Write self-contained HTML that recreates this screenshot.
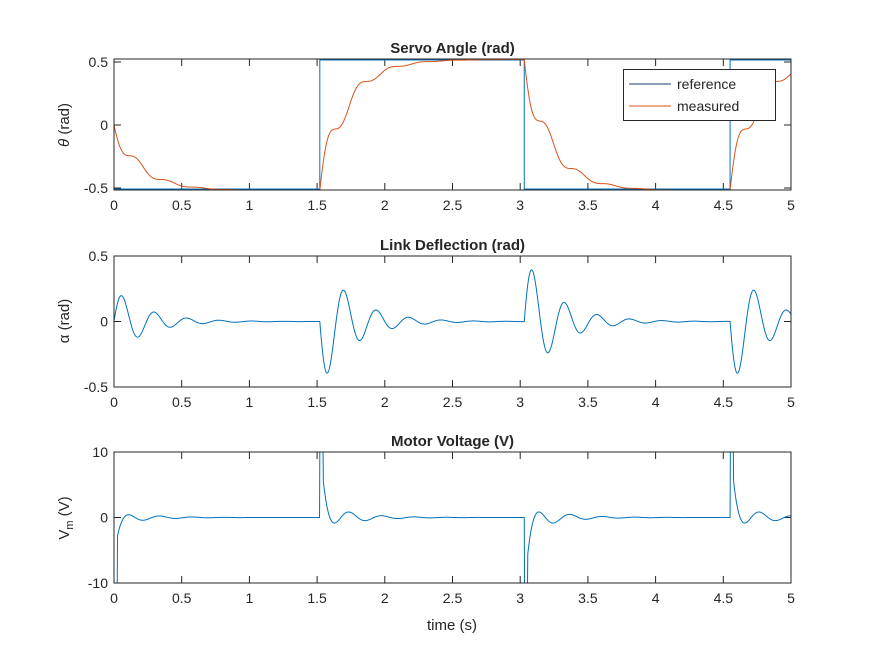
<!DOCTYPE html>
<html><head><meta charset="utf-8"><style>
body{margin:0;background:#fff;}
svg text{font-family:"Liberation Sans",Arial,sans-serif;fill:#262626;}
</style></head><body>
<svg id="s" width="875" height="656" xmlns="http://www.w3.org/2000/svg"></svg>
<script>
const S=document.getElementById('s');
let h='';
const X0=114,X1=791,kx=(X1-X0)/5;
const px=t=>X0+t*kx;
const axes=[
 {top:59,bot:190,y:v=>125-126*v,ticks:[[0.5,'0.5'],[0,'0'],[-0.5,'-0.5']],title:'Servo Angle (rad)'},
 {top:256,bot:387,y:v=>321.5-131*v,ticks:[[0.5,'0.5'],[0,'0'],[-0.5,'-0.5']],title:'Link Deflection (rad)'},
 {top:452,bot:583,y:v=>517.5-6.55*v,ticks:[[10,'10'],[0,'0'],[-10,'-10']],title:'Motor Voltage (V)'}
];
const sw=[0,1.52,3.03,4.55];
function seg(t){let i=0;for(let k=0;k<sw.length;k++)if(t>=sw[k])i=k;return i;}
const N=2000,dt=1/N*1.5,R=[0];let acc=0;
for(let i=1;i<=N;i++){const tau=i*dt;acc+=Math.exp(-tau/0.2)*(1+0.95*Math.cos(2*Math.PI*tau/0.23))*dt;R.push(acc);}
const Rn=R.map(v=>v/acc);
const resp=tau=>Rn[Math.min(N,Math.round(tau/dt))];
function theta(t){const i=seg(t),tau=t-sw[i];
 const target=i%2==0?-0.52:0.52;const start=i==0?0:-target;return start+(target-start)*resp(tau);}
function alpha(t){const i=seg(t),tau=t-sw[i];const s=(i%2==0?-1:1)*(i==0?0.5:1);
 return -s*0.5*Math.exp(-tau/0.24)*Math.sin(2*Math.PI*tau/0.24);}
function volt(t){const i=seg(t),tau=t-sw[i];const s=(i%2==0?-1:1)*(i==0?0.5:1);
 if(tau<0.025)return (i%2==0?-1:1)*12;
 return s*(5*Math.exp(-(tau-0.025)/0.035)+2.2*Math.exp(-tau/0.22)*(-Math.cos(2*Math.PI*(tau-0.1)/0.24)));}
function path(f,a,clip){let d='';for(let t=0;t<=5;t+=0.002){let v=f(t);let y=a.y(v);if(clip){y=Math.max(a.top,Math.min(a.bot,y));}d+=(d?'L':'M')+px(t).toFixed(2)+' '+y.toFixed(2);}return d;}
axes.forEach((a,ai)=>{
 for(let t=0;t<=5.001;t+=0.5){const x=px(t).toFixed(1);
  h+=`<line x1="${x}" y1="${a.bot}" x2="${x}" y2="${a.bot-7}" stroke="#262626"/><line x1="${x}" y1="${a.top}" x2="${x}" y2="${a.top+7}" stroke="#262626"/>`;
  h+=`<text x="${x}" y="${a.bot+20}" font-size="14" text-anchor="middle">${Math.round(t*10)/10}</text>`;}
 a.ticks.forEach(([v,l])=>{const y=a.y(v).toFixed(1);
  h+=`<line x1="${X0}" y1="${y}" x2="${X0+7}" y2="${y}" stroke="#262626"/><line x1="${X1}" y1="${y}" x2="${X1-7}" y2="${y}" stroke="#262626"/>`;
  h+=`<text x="${X0-6}" y="${+y+5}" font-size="14" text-anchor="end">${l}</text>`;});
 h+=`<text x="${(X0+X1)/2}" y="${a.top-6}" font-size="15" font-weight="bold" text-anchor="middle" fill="#000">${a.title}</text>`;
});
const A=axes;
let d='M'+px(0)+' 189';sw.forEach((s,i)=>{if(i==0)return;const yo=i%2==1?189:60,yn=i%2==1?60:189;d+=`L${px(s)} ${yo}L${px(s)} ${yn}`;});d+=`L${X1} 60`;
h+=`<path d="${d}" fill="none" stroke="#0072BD" stroke-width="1"/>`;
h+=`<path d="${path(theta,A[0],true)}" fill="none" stroke="#D95319" stroke-width="1"/>`;
h+=`<path d="${path(alpha,A[1],true)}" fill="none" stroke="#0072BD" stroke-width="1"/>`;
h+=`<path d="${path(volt,A[2],true)}" fill="none" stroke="#0072BD" stroke-width="1"/>`;
axes.forEach(a=>{h+=`<rect x="${X0}" y="${a.top}" width="${X1-X0}" height="${a.bot-a.top}" fill="none" stroke="#262626"/>`;});
h+=`<rect x="623.5" y="69.5" width="152" height="51" fill="#fff" stroke="#262626"/>`;
h+=`<line x1="629" y1="84" x2="671" y2="84" stroke="#1a3d6e"/><text x="677" y="89" font-size="14">reference</text>`;
h+=`<line x1="629" y1="106" x2="671" y2="106" stroke="#D95319"/><text x="677" y="111" font-size="14">measured</text>`;
h+=`<text transform="translate(69,125) rotate(-90)" font-size="15" text-anchor="middle"><tspan font-style="italic">θ</tspan> (rad)</text>`;
h+=`<text transform="translate(69,321) rotate(-90)" font-size="15" text-anchor="middle">α (rad)</text>`;
h+=`<text transform="translate(69,518) rotate(-90)" font-size="15" text-anchor="middle">V<tspan font-size="11" dy="4">m</tspan><tspan dy="-4"> (V)</tspan></text>`;
h+=`<text x="452" y="630" font-size="15" text-anchor="middle">time (s)</text>`;
S.innerHTML=h;
</script>
</body></html>
